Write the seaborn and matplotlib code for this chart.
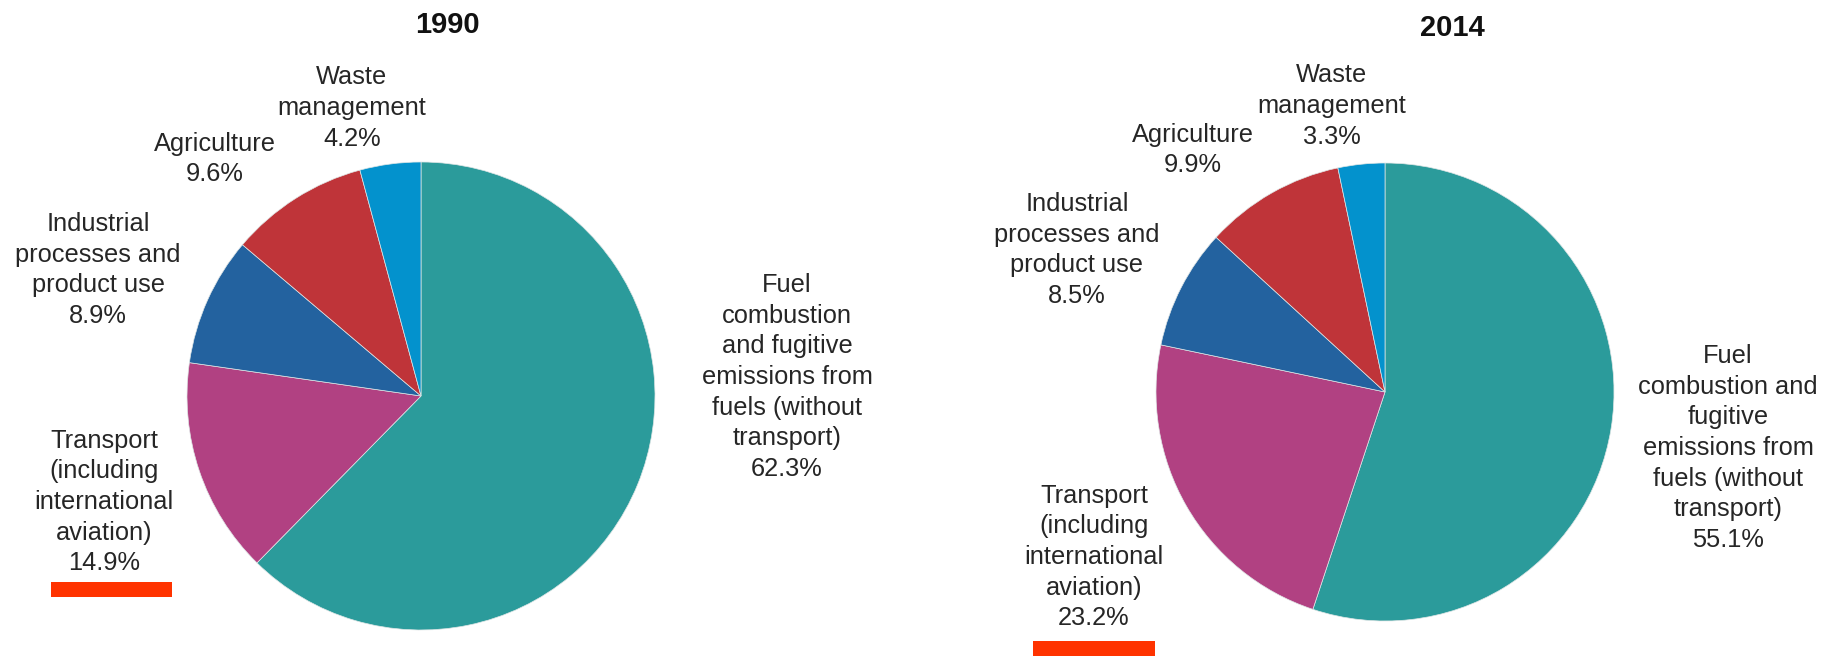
import seaborn as sns
import matplotlib.pyplot as plt
from matplotlib.patches import Rectangle

# Доли выбросов по секторам, %
years = ['1990', '2014']
share_1990 = [62.3, 14.9, 8.9, 9.6, 4.2]
share_2014 = [55.1, 23.2, 8.5, 9.9, 3.3]

# Подписи секторов (переносы строк как на исходной картинке)
labels_1990 = ['Fuel\ncombustion\nand fugitive\nemissions from\nfuels (without\ntransport)',
               'Transport\n(including\ninternational\naviation)',
               'Industrial\nprocesses and\nproduct use',
               'Agriculture',
               'Waste\nmanagement']
labels_2014 = ['Fuel\ncombustion and\nfugitive\nemissions from\nfuels (without\ntransport)',
               'Transport\n(including\ninternational\naviation)',
               'Industrial\nprocesses and\nproduct use',
               'Agriculture',
               'Waste\nmanagement']

colors = ['#2b9b9b', '#b14182', '#23629f', '#bf3439', '#0392cd']

W, H = 1836, 656
sns.set_theme(style='white')
plt.rcParams['font.family'] = ['Liberation Sans', 'DejaVu Sans']

fig = plt.figure(figsize=(W / 100, H / 100), dpi=100)


def px(x, y):
    return x / W, 1 - y / H


# центры и радиусы кругов, положения подписей и заголовков (в пикселях)
pie_boxes = [(421, 396, 234), (1385, 392, 229)]
title_pos = [(447, 25), (1452, 28)]
label_pos = [
    [(787, 377), (104, 502), (98, 270), (215, 159), (352, 108)],
    [(1728, 448), (1094, 557), (1077, 250), (1193, 150), (1332, 106)],
]
bar_pos = [(51, 582, 121, 15), (1033, 641, 122, 15)]

for i, (vals, labs) in enumerate([(share_1990, labels_1990), (share_2014, labels_2014)]):
    cx, cy, r = pie_boxes[i]
    ax = fig.add_axes([(cx - r) / W, (H - cy - r) / H, 2 * r / W, 2 * r / H])
    ax.pie(vals, colors=colors, startangle=90, counterclock=False, radius=1,
           wedgeprops={'edgecolor': '#dfe6e6', 'linewidth': 0.5})
    ax.set_xlim(-1, 1)
    ax.set_ylim(-1, 1)
    ax.set_aspect('equal')
    ax.set_axis_off()

    tx, ty = title_pos[i]
    fig.text(*px(tx, ty), years[i], ha='center', va='center',
             fontsize=21, fontweight='bold', color='#111111')

    for lab, v, (lx, ly) in zip(labs, vals, label_pos[i]):
        fig.text(*px(lx, ly), f'{lab}\n{v}%', ha='center', va='center',
                 multialignment='center', fontsize=18.3, linespacing=1.35,
                 color='#262626')

    bx, by, bw, bh = bar_pos[i]
    fig.add_artist(Rectangle((bx / W, 1 - (by + bh) / H), bw / W, bh / H,
                             transform=fig.transFigure, color='#ff3300', lw=0))

fig.savefig('out.png', dpi=100)
